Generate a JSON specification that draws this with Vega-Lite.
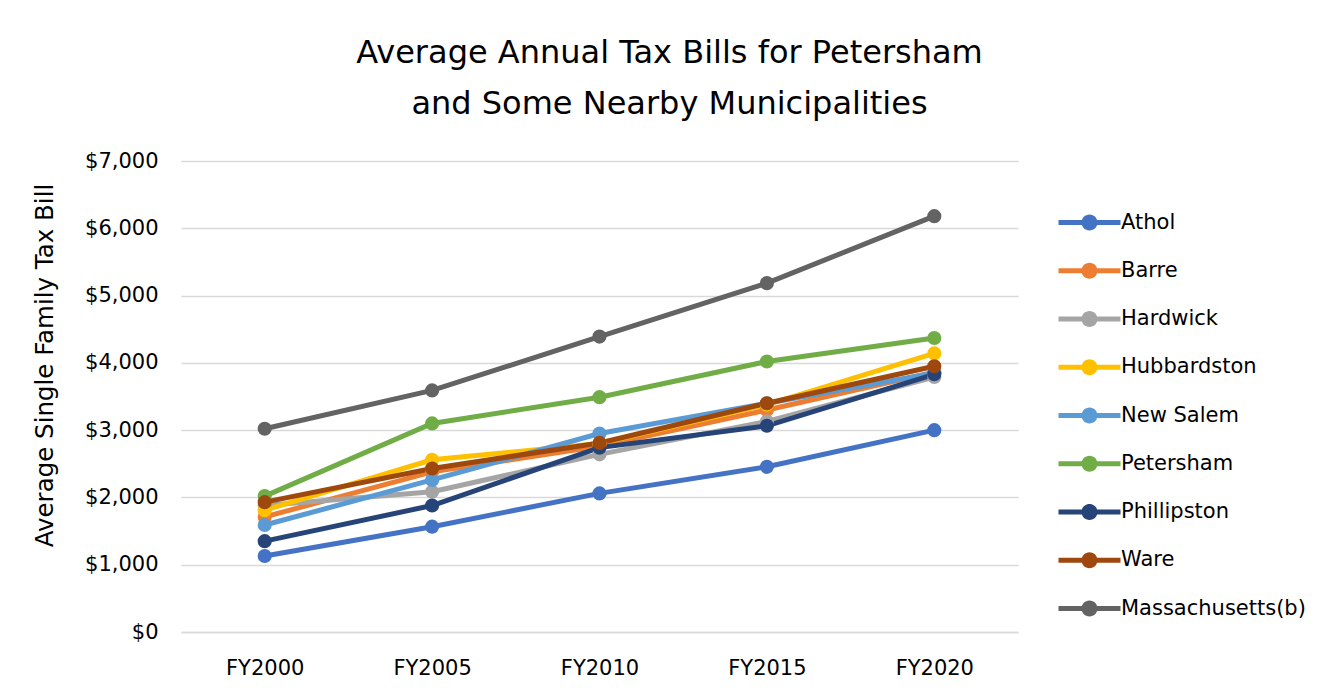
{
  "$schema": "https://vega.github.io/schema/vega-lite/v6.json",
  "width": 837,
  "height": 471,
  "autosize": {"type": "none"},
  "padding": {"left": 181, "top": 161, "right": 318, "bottom": 68},
  "background": "white",
  "title": {
    "text": ["Average Annual Tax Bills for Petersham", "and Some Nearby Municipalities"],
    "font": "DejaVu Sans",
    "fontSize": 32,
    "fontWeight": "normal",
    "lineHeight": 51,
    "color": "#000000",
    "anchor": "middle",
    "dx": 70,
    "offset": 29
  },
  "data": {
    "values": [
      {"Town": "Athol", "Year": "FY2000", "Value": 1130},
      {"Town": "Athol", "Year": "FY2005", "Value": 1565},
      {"Town": "Athol", "Year": "FY2010", "Value": 2060},
      {"Town": "Athol", "Year": "FY2015", "Value": 2455},
      {"Town": "Athol", "Year": "FY2020", "Value": 3000},
      {"Town": "Barre", "Year": "FY2000", "Value": 1710},
      {"Town": "Barre", "Year": "FY2005", "Value": 2380},
      {"Town": "Barre", "Year": "FY2010", "Value": 2760},
      {"Town": "Barre", "Year": "FY2015", "Value": 3300},
      {"Town": "Barre", "Year": "FY2020", "Value": 3860},
      {"Town": "Hardwick", "Year": "FY2000", "Value": 1880},
      {"Town": "Hardwick", "Year": "FY2005", "Value": 2085},
      {"Town": "Hardwick", "Year": "FY2010", "Value": 2640},
      {"Town": "Hardwick", "Year": "FY2015", "Value": 3130},
      {"Town": "Hardwick", "Year": "FY2020", "Value": 3790},
      {"Town": "Hubbardston", "Year": "FY2000", "Value": 1810},
      {"Town": "Hubbardston", "Year": "FY2005", "Value": 2560},
      {"Town": "Hubbardston", "Year": "FY2010", "Value": 2800},
      {"Town": "Hubbardston", "Year": "FY2015", "Value": 3380},
      {"Town": "Hubbardston", "Year": "FY2020", "Value": 4140},
      {"Town": "New Salem", "Year": "FY2000", "Value": 1590},
      {"Town": "New Salem", "Year": "FY2005", "Value": 2260},
      {"Town": "New Salem", "Year": "FY2010", "Value": 2950},
      {"Town": "New Salem", "Year": "FY2015", "Value": 3400},
      {"Town": "New Salem", "Year": "FY2020", "Value": 3850},
      {"Town": "Petersham", "Year": "FY2000", "Value": 2020},
      {"Town": "Petersham", "Year": "FY2005", "Value": 3100},
      {"Town": "Petersham", "Year": "FY2010", "Value": 3490},
      {"Town": "Petersham", "Year": "FY2015", "Value": 4020},
      {"Town": "Petersham", "Year": "FY2020", "Value": 4370},
      {"Town": "Phillipston", "Year": "FY2000", "Value": 1350},
      {"Town": "Phillipston", "Year": "FY2005", "Value": 1880},
      {"Town": "Phillipston", "Year": "FY2010", "Value": 2740},
      {"Town": "Phillipston", "Year": "FY2015", "Value": 3065},
      {"Town": "Phillipston", "Year": "FY2020", "Value": 3830},
      {"Town": "Ware", "Year": "FY2000", "Value": 1930},
      {"Town": "Ware", "Year": "FY2005", "Value": 2430},
      {"Town": "Ware", "Year": "FY2010", "Value": 2810},
      {"Town": "Ware", "Year": "FY2015", "Value": 3400},
      {"Town": "Ware", "Year": "FY2020", "Value": 3950},
      {"Town": "Massachusetts(b)", "Year": "FY2000", "Value": 3020},
      {"Town": "Massachusetts(b)", "Year": "FY2005", "Value": 3590},
      {"Town": "Massachusetts(b)", "Year": "FY2010", "Value": 4390},
      {"Town": "Massachusetts(b)", "Year": "FY2015", "Value": 5185},
      {"Town": "Massachusetts(b)", "Year": "FY2020", "Value": 6180}
    ]
  },
  "encoding": {
    "x": {
      "field": "Year",
      "type": "ordinal",
      "scale": {"type": "point", "padding": 0.5},
      "axis": {
        "title": null,
        "labelAngle": 0,
        "labelFont": "DejaVu Sans",
        "labelFontSize": 21,
        "labelColor": "#000000",
        "labelPadding": 25,
        "ticks": false,
        "domainColor": "#D9D9D9",
        "domainWidth": 1.5,
        "grid": false
      }
    },
    "y": {
      "field": "Value",
      "type": "quantitative",
      "scale": {"domain": [0, 7000], "nice": false},
      "axis": {
        "title": "Average Single Family Tax Bill",
        "titleFont": "DejaVu Sans",
        "titleFontSize": 24.5,
        "titleFontWeight": "normal",
        "titleColor": "#000000",
        "titleX": -136,
        "titleY": 204,
        "titleBaseline": "middle",
        "titleAlign": "center",
        "titleAngle": -90,
        "values": [0, 1000, 2000, 3000, 4000, 5000, 6000, 7000],
        "format": "$,.0f",
        "labelFont": "DejaVu Sans",
        "labelFontSize": 21,
        "labelColor": "#000000",
        "labelPadding": 23,
        "ticks": false,
        "domain": false,
        "gridColor": "#D9D9D9",
        "gridWidth": 1.5
      }
    },
    "color": {
      "field": "Town",
      "type": "nominal",
      "sort": ["Athol", "Barre", "Hardwick", "Hubbardston", "New Salem", "Petersham", "Phillipston", "Ware", "Massachusetts(b)"],
      "scale": {
        "domain": ["Athol", "Barre", "Hardwick", "Hubbardston", "New Salem", "Petersham", "Phillipston", "Ware", "Massachusetts(b)"],
        "range": ["#4472C4", "#ED7D31", "#A5A5A5", "#FFC000", "#5B9BD5", "#70AD47", "#264478", "#9E480E", "#636363"]
      },
      "legend": {
        "title": null,
        "orient": "none",
        "legendX": 877,
        "legendY": 51,
        "symbolType": "M-1,-0.25L5.2,-0.25L5.2,0.25L-1,0.25Z M2.9,0A0.8,0.8 0 1 1 1.3,0A0.8,0.8 0 1 1 2.9,0Z",
        "symbolSize": 400,
        "symbolStrokeWidth": 0,
        "labelOffset": 42,
        "labelFont": "DejaVu Sans",
        "labelFontSize": 21,
        "labelColor": "#000000",
        "rowPadding": 26.25,
        "labelLimit": 300,
        "encode": {
          "symbols": {"update": {"fill": {"scale": "color", "field": "value"}, "opacity": {"value": 1}}}
        }
      }
    }
  },
  "layer": [
    {"mark": {"type": "line", "strokeWidth": 5}},
    {"mark": {"type": "point", "filled": true, "size": 200, "opacity": 1}}
  ],
  "config": {"view": {"stroke": null}}
}
